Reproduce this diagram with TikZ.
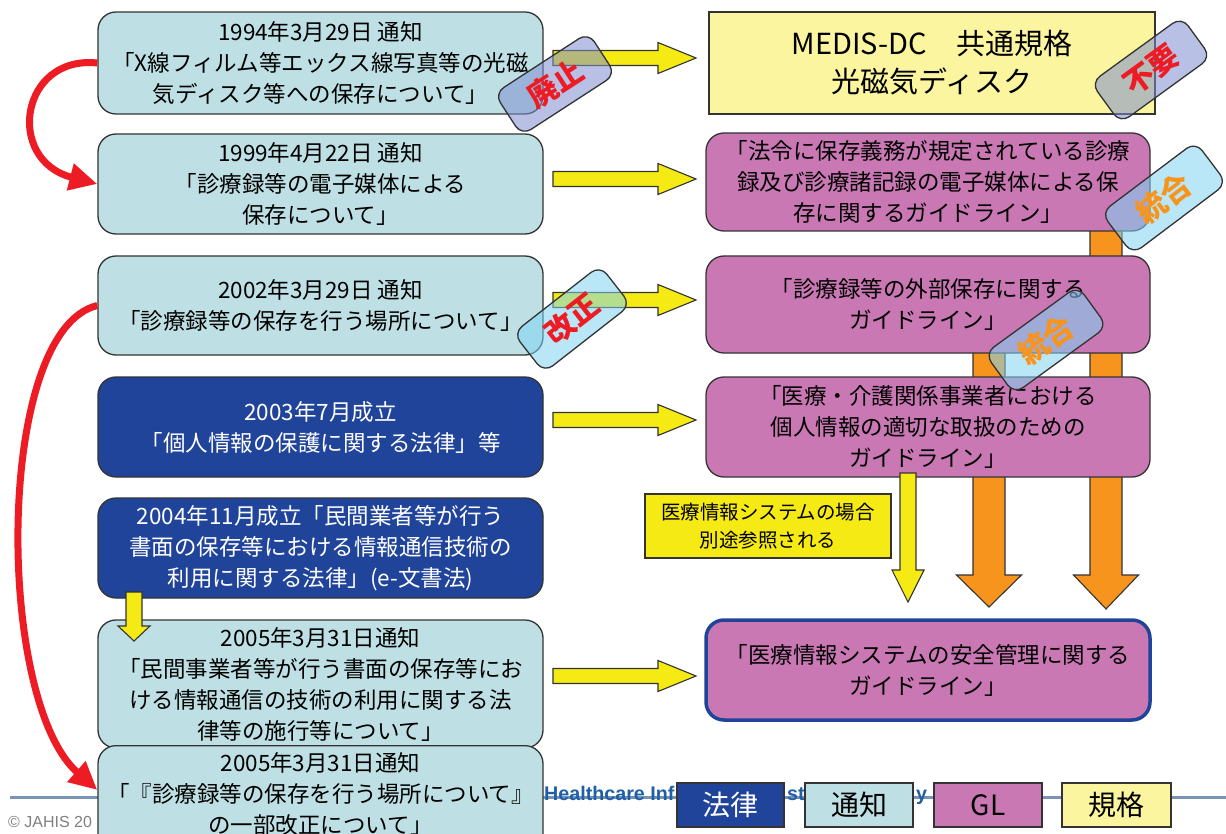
\documentclass[tikz,border=0pt]{standalone}
\usepackage{fontspec}
\setmainfont{Noto Sans CJK JP}
\newfontfamily\latfont{Liberation Sans}
\usetikzlibrary{arrows.meta,calc}
\definecolor{cyanbox}{HTML}{BEE0E5}
\definecolor{navybox}{HTML}{21449B}
\definecolor{magbox}{HTML}{C978B4}
\definecolor{ylight}{HTML}{FAF59E}
\definecolor{yarrow}{HTML}{F5EA14}
\definecolor{orarrow}{HTML}{F7941E}
\definecolor{redarrow}{HTML}{ED1C24}
\definecolor{stampblue}{HTML}{7F8FD0}
\definecolor{stampcyan}{HTML}{80D4F4}
\definecolor{footline}{HTML}{7A93B5}
\definecolor{foottext}{HTML}{1F5FA8}
\definecolor{boxline}{HTML}{333333}
\tikzset{
  box/.style={draw=boxline, line width=1.3, rounded corners=18, minimum width=445, align=center, inner sep=0, font=\fontsize{22.5}{31}\selectfont},
  lbox/.style={box, fill=cyanbox},
  nbox/.style={box, fill=navybox, text=white},
  gbox/.style={box, fill=magbox, minimum width=444},
  jtext/.style={align=center, inner sep=0, font=\fontsize{22.5}{31}\selectfont},
  yarr/.style={draw=boxline, line width=1.1, fill=yarrow, line join=miter},
  oarr/.style={draw=boxline, line width=1.1, fill=orarrow, line join=miter},
  redarr/.style={draw=redarrow, line width=7, -{Triangle[length=28,width=26]}},
  stamp/.style={draw=boxline, line width=1.3, rounded corners=11, minimum width=112, minimum height=50, fill opacity=0.55, text opacity=1, font=\fontsize{30}{30}\selectfont\bfseries},
  legend/.style={draw=boxline, line width=1.2, minimum height=44, inner sep=0, font=\fontsize{28}{28}\selectfont},
  foot/.style={anchor=base west, inner sep=0, text=foottext, font=\latfont\bfseries\fontsize{19.7}{20}\selectfont},
}
\newcommand\harr[3]{\draw[yarr] (#1,#3-7.5) -- (#2-38,#3-7.5) -- (#2-38,#3-15.5) -- (#2,#3) -- (#2-38,#3+15.5) -- (#2-38,#3+7.5) -- (#1,#3+7.5) -- cycle;}
\newcommand\varr[7]{\draw[#1] (#2-#5,#3) -- (#2+#5,#3) -- (#2+#5,#4-#7) -- (#2+#6,#4-#7) -- (#2,#4) -- (#2-#6,#4-#7) -- (#2-#5,#4-#7) -- cycle;}
\begin{document}
\begin{tikzpicture}[x=1pt,y=-1pt]
\useasboundingbox (0,0) rectangle (1226,834);
\clip (0,0) rectangle (1226,834);
\fill[white] (0,0) rectangle (1226,834);

% footer
\draw[footline, line width=3] (10,797) -- (1226,797);
\node[foot] (foot1) at (544,800) {Healthcare Inf};
\node[foot] (foot2) at (787,800) {st};
\node[foot] (foot3) at (916,800) {y};
\node[anchor=base west, inner sep=0, text=gray, font=\latfont\fontsize{16}{16}\selectfont] (copy) at (8,827) {© JAHIS 20};

% orange arrows (behind guideline boxes)
\varr{oarr}{1106}{226}{609}{16}{32.5}{34}
\varr{oarr}{989}{345}{607}{16}{32.5}{32}

% left column
\node[lbox, minimum height=102] (L1) at (320.5,63) {1994年3月29日 通知\\「X線フィルム等エックス線写真等の光磁\\気ディスク等への保存について」};
\node[lbox, minimum height=100] (L2) at (320.5,184) {1999年4月22日 通知\\「診療録等の電子媒体による\\保存について」};
\node[lbox, minimum height=99] (L3) at (320.5,305.5) {2002年3月29日 通知\\「診療録等の保存を行う場所について」};
\node[nbox, minimum height=100] (L4) at (320.5,427) {2003年7月成立\\「個人情報の保護に関する法律」等};
\node[nbox, minimum height=100] (L5) at (320.5,548) {2004年11月成立「民間業者等が行う\\書面の保存等における情報通信技術の\\利用に関する法律」(e-文書法)};
\node[lbox, minimum height=128] (L6) at (320.5,684) {2005年3月31日通知\\「民間事業者等が行う書面の保存等にお\\ける情報通信の技術の利用に関する法\\律等の施行等について」};
\node[lbox, minimum height=130, anchor=north] (L7) at (320.5,745) {};
\node[jtext] (L7t) at (320.5,794) {2005年3月31日通知\\「『診療録等の保存を行う場所について』\\の一部改正について」};

% right column
\node[draw=boxline, line width=1.3, fill=ylight, minimum width=446, minimum height=102, align=center, inner sep=0, font=\fontsize{29}{38}\selectfont] (R1) at (932,63) {MEDIS-DC　共通規格\\光磁気ディスク};
\node[gbox, minimum height=98] (R2) at (928,182) {「法令に保存義務が規定されている診療\\録及び診療諸記録の電子媒体による保\\存に関するガイドライン」};
\node[gbox, minimum height=97] (R3) at (928,304.5) {「診療録等の外部保存に関する\\ガイドライン」};
\node[gbox, minimum height=100] (R4) at (928,427) {「医療・介護関係事業者における\\個人情報の適切な取扱のための\\ガイドライン」};
\node[gbox, draw=navybox, line width=3.5, minimum height=100] (R5) at (928,670) {「医療情報システムの安全管理に関する\\ガイドライン」};

% yellow arrows
\harr{553}{696}{58}
\harr{553}{696}{179}
\harr{553}{696}{300}
\harr{553}{696}{420}
\harr{553}{696}{676}
\varr{yarr}{908}{473}{602}{8}{16}{32}
\varr{yarr}{134}{592}{641}{8}{16}{15}

% note
\node[draw=boxline, line width=1.2, fill=yarrow, minimum width=246, minimum height=64, align=center, inner sep=0, font=\fontsize{19.5}{28}\selectfont] (note) at (768,526) {医療情報システムの場合\\別途参照される};

% red curved arrows
\draw[redarr] (L1.west) .. controls (20,55) and (5,160) .. (L2.west);
\draw[redarr] (L3.west) .. controls (-5,330) and (-5,700) .. ($(L7.north west)+(0,45)$);

% stamps
\node[stamp, fill=stampblue, rotate=33, text=redarrow] (S1) at (555,84) {廃止};
\node[stamp, fill=stampblue, rotate=36, text=redarrow] (S2) at (1151,70) {不要};
\node[stamp, fill=stampcyan, rotate=37, minimum width=118, minimum height=52, text=orarrow] (S3) at (1164,198) {統合};
\node[stamp, fill=stampcyan, rotate=38, minimum width=110, text=redarrow] (S4) at (572,319) {改正};
\node[stamp, fill=stampcyan, rotate=36, minimum width=115, text=orarrow] (S5) at (1046,340) {統合};

% legend
\node[legend, fill=navybox, text=white, minimum width=107] (G1) at (730.5,805) {法律};
\node[legend, fill=cyanbox, minimum width=108] (G2) at (859,805) {通知};
\node[legend, fill=magbox, minimum width=108] (G3) at (988,805) {GL};
\node[legend, fill=ylight, minimum width=109] (G4) at (1116.5,805) {規格};
\end{tikzpicture}
\end{document}
